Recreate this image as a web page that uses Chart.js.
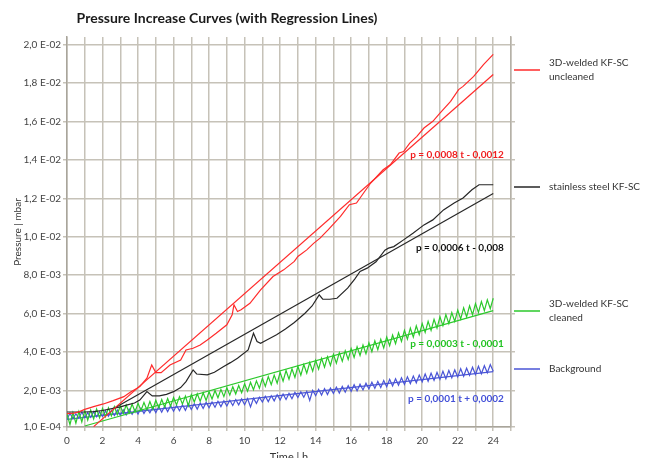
<!DOCTYPE html>
<html>
<head>
<meta charset="utf-8">
<title>Pressure Increase Curves</title>
<script src="https://cdn.jsdelivr.net/npm/chart.js@4.4.1/dist/chart.umd.min.js"></script>
<style>
  html, body { margin: 0; padding: 0; background: #fff; }
</style>
</head>
<body>
<canvas id="pressureChart" width="646" height="458"></canvas>
<script>
// all pressure values below are in units of 1e-4 mbar
const sampleStepH = 1 / 6; // logger interval: 10 min

// Background (zig-zag, logged every 10 min)
const backgroundVals = [
  5.0, 8.2, 5.4, 7.9, 5.6, 8.8,   5.9, 8.5, 6.0, 9.0, 6.3, 8.9,
  6.5, 9.4, 6.6, 9.6, 7.0, 9.8,   7.1, 10.0, 7.3, 10.4, 7.6, 10.2,
  7.8, 10.9, 8.0, 10.8, 8.4, 11.4, 8.5, 11.6, 8.7, 11.9, 9.0, 12.1,
  9.2, 12.2, 9.5, 12.6, 9.7, 13.0, 10.1, 13.1, 10.3, 13.5, 10.7, 13.8,
  11.0, 14.0, 11.3, 14.4, 11.6, 14.7, 11.9, 14.9, 12.2, 15.3, 12.5, 15.6,
  12.6, 15.8, 11.5, 16.0, 13.3, 16.5, 14.0, 17.0, 14.2, 17.3, 14.6, 17.8,
  15.1, 18.2, 15.3, 18.5, 15.7, 19.0, 16.3, 19.3, 16.5, 19.6, 14.8, 20.1,
  17.3, 20.6, 17.6, 21.0, 17.9, 21.3, 18.5, 21.8, 18.7, 22.1, 19.1, 22.5,
  19.6, 23.0, 19.8, 23.3, 20.3, 23.8, 20.8, 24.3, 21.1, 24.7, 21.5, 25.2,
  22.0, 25.8, 22.3, 26.1, 22.7, 26.6, 23.2, 27.1, 23.6, 27.5, 24.0, 28.0,
  24.5, 28.6, 24.8, 29.0, 25.3, 29.4, 25.8, 30.0, 26.1, 30.4, 26.6, 30.7,
  27.1, 31.3, 27.4, 31.6, 27.9, 32.1, 28.3, 32.6, 28.7, 32.9, 29.2, 33.5,
  30.0
];

// 3D-welded KF-SC cleaned (zig-zag, logged every 10 min)
const cleanedVals = [
  7.8, 2.2, 8.5, 3.0, 9.0, 3.6,   9.5, 4.6, 9.8, 5.2, 10.4, 5.8,
  10.7, 6.4, 11.0, 6.8, 11.6, 7.4, 12.0, 8.0, 12.4, 8.4, 12.9, 8.8,
  13.4, 9.5, 13.8, 9.9, 14.3, 10.3, 14.9, 11.0, 15.3, 11.4, 15.8, 11.8,
  16.4, 12.5, 16.8, 12.9, 17.1, 12.0, 17.8, 14.0, 18.3, 14.4, 18.8, 14.8,
  19.4, 15.6, 20.0, 16.2, 20.6, 16.8, 21.4, 17.6, 22.0, 18.2, 22.6, 18.8,
  23.5, 19.6, 24.3, 20.4, 25.0, 21.2, 26.3, 22.1, 27.2, 23.0, 28.0, 23.8,
  29.5, 24.9, 30.4, 25.9, 31.3, 26.8, 32.6, 28.0, 33.5, 29.0, 34.5, 30.0,
  35.7, 31.1, 36.7, 32.1, 37.6, 33.0, 38.8, 34.2, 39.7, 35.2, 40.7, 36.2,
  41.8, 37.2, 42.8, 38.2, 43.7, 39.2, 44.8, 40.2, 45.8, 41.2, 46.7, 42.2,
  47.8, 43.3, 48.9, 44.4, 50.0, 45.5, 51.3, 46.7, 52.5, 47.8, 53.6, 49.0,
  54.8, 50.2, 56.0, 51.3, 57.1, 52.5, 58.3, 53.7, 59.5, 54.8, 60.6, 56.0,
  61.8, 57.2, 63.0, 58.3, 64.1, 59.5, 65.2, 60.6, 66.3, 61.6, 67.2, 62.6,
  68.0
];

// 3D-welded KF-SC uncleaned
const uncleanedT = [0, 0.4, 0.7, 1.0, 1.5, 2.05, 2.6, 3.2, 3.6, 4.1, 4.5, 4.77, 5.0, 5.3, 5.8,
  6.4, 6.7, 7.1, 7.5, 7.9, 8.4, 9.0, 9.3, 9.4, 9.6, 9.8, 10.3, 10.9, 11.6, 12.2, 12.8, 13.0,
  13.5, 13.9, 14.25, 14.7, 15.4, 15.9, 16.3, 16.7, 17.1, 17.45, 17.8, 18.2, 18.7, 18.95, 19.3,
  19.7, 20.1, 20.6, 21.0, 21.6, 22.05, 22.3, 22.9, 23.45, 24.0];
const uncleanedVals = [8.0, 8.2, 9.0, 10.2, 11.6, 13.0, 14.7, 16.8, 19.4, 22.0, 26.4, 33.3, 29.3, 29.3, 33.3,
  35.9, 41.1, 42.0, 43.7, 46.3, 49.8, 54.2, 59.4, 64.6, 61.1, 62.0, 65.4, 72.4, 79.3, 82.8, 87.2, 89.8,
  93.2, 96.7, 99.3, 103.6, 110.6, 116.7, 117.6, 122.8, 128.0, 131.4, 134.9, 137.5, 143.6, 144.4, 148.8,
  152.3, 156.6, 160.1, 164.4, 170.5, 176.6, 178.3, 183.5, 189.6, 195.0];

// stainless steel KF-SC
const steelT = [0, 0.5, 1.0, 1.5, 2.0, 2.6, 3.0, 3.4, 3.8, 4.1, 4.5, 4.8, 5.2, 5.6, 6.0, 6.4, 6.7,
  7.1, 7.3, 7.9, 8.3, 8.8, 9.2, 9.6, 10.2, 10.5, 10.7, 10.9, 11.3, 11.8, 12.3, 12.8, 13.4, 13.8,
  14.2, 14.4, 14.8, 15.2, 15.8, 16.2, 16.5, 16.9, 17.4, 17.9, 18.1, 18.4, 18.95, 19.5, 20.1,
  20.6, 21.2, 21.8, 22.3, 22.8, 23.2, 23.45, 24.0];
const steelVals = [8.8, 8.8, 8.8, 9.0, 9.6, 10.7, 11.5, 12.5, 13.5, 15.0, 19.4, 17.2, 17.2, 18.0, 19.4, 21.5, 24.6,
  30.7, 28.6, 28.1, 29.5, 32.4, 34.5, 36.8, 41.1, 49.8, 45.5, 44.6, 46.5, 49.0, 52.0, 55.4, 60.2, 64.0,
  69.8, 67.5, 67.5, 68.0, 73.3, 78.0, 82.0, 83.7, 87.0, 93.0, 94.1, 94.9, 98.4, 102.0, 106.2,
  108.8, 114.0, 117.6, 120.2, 124.5, 127.1, 127.1, 127.1];

// regression lines: [start, end]
const uncleanedFitT = [1.5, 24];  const uncleanedFitP = [1.2, 184.5];
const steelFitT = [2.6, 24];      const steelFitP = [10.5, 122.5];
const cleanedFitT = [1.0, 24];    const cleanedFitP = [1.5, 61.6];
const backgroundFitT = [0, 24];   const backgroundFitP = [5.0, 29.8];

const fitLabels = ["p = 0,0008 t - 0,0012", "p = 0,0006 t - 0,008", "p = 0,0003 t - 0,0001", "p = 0,0001 t + 0,0002"];
const fitLabelP = [142.7, 94.3, 44.2, 15.6];
const seriesNames = [["3D-welded KF-SC", "uncleaned"], ["stainless steel KF-SC"], ["3D-welded KF-SC", "cleaned"], ["Background"]];
const seriesColors = ["#ff2b2b", "#262626", "#2bc92b", "#4a55d6"];
const eqColors = ["#f01e1e", "#111111", "#22c322", "#4350d8"];

const yTickValues = [0.0001, 0.002, 0.004, 0.006, 0.008, 0.010, 0.012, 0.014, 0.016, 0.018, 0.020];
const xTickLabelStep = 2;

const E4 = 1e-4;
const toPts = (ts, vs) => vs.map((v, i) => ({ x: ts[i], y: v * E4 }));
const sampled = (vs) => vs.map((v, i) => ({ x: i * sampleStepH, y: v * E4 }));

function sciLabel(v) {
  const exp = Math.floor(Math.log10(v) + 1e-9);
  const mant = v / Math.pow(10, exp);
  return mant.toFixed(1).replace(".", ",") + " E-" + String(-exp).padStart(2, "0");
}

const overlay = {
  id: "overlay",
  afterDraw(chart) {
    const { ctx, scales } = chart;
    ctx.save();
    // title
    ctx.fillStyle = "#1a1a1a";
    ctx.font = "bold 14px Lato";
    ctx.textAlign = "center";
    ctx.textBaseline = "middle";
    ctx.fillText("Pressure Increase Curves (with Regression Lines)", 227, 18);

    // regression equations, right-aligned just left of t = 24.6 h
    ctx.font = "bold 10px Lato";
    ctx.textAlign = "right";
    fitLabels.forEach((txt, i) => {
      ctx.fillStyle = eqColors[i];
      ctx.fillText(txt, scales.x.getPixelForValue(24.6), scales.y.getPixelForValue(fitLabelP[i] * E4));
    });

    // legend at the right
    const legendY = [70, 187, 311, 369];
    ctx.font = "10px Lato";
    ctx.textAlign = "left";
    seriesNames.forEach((lines, i) => {
      const cy = legendY[i];
      ctx.strokeStyle = seriesColors[i];
      ctx.lineWidth = 1.5;
      ctx.beginPath();
      ctx.moveTo(514, cy);
      ctx.lineTo(540, cy);
      ctx.stroke();
      ctx.fillStyle = "#333";
      const top = cy - (lines.length - 1) * 7;
      lines.forEach((l, k) => ctx.fillText(l, 549, top + k * 14));
    });
    ctx.restore();
  }
};

const lineStyle = (color) => ({ borderColor: color, backgroundColor: color, borderWidth: 1.2, pointRadius: 0, tension: 0, fill: false });

new Chart(document.getElementById("pressureChart").getContext("2d"), {
  type: "line",
  data: {
    datasets: [
      { data: toPts(uncleanedT, uncleanedVals), ...lineStyle(seriesColors[0]) },
      { data: toPts(uncleanedFitT, uncleanedFitP), ...lineStyle(seriesColors[0]) },
      { data: toPts(steelT, steelVals), ...lineStyle(seriesColors[1]) },
      { data: toPts(steelFitT, steelFitP), ...lineStyle(seriesColors[1]) },
      { data: sampled(cleanedVals), ...lineStyle(seriesColors[2]) },
      { data: toPts(cleanedFitT, cleanedFitP), ...lineStyle(seriesColors[2]) },
      { data: sampled(backgroundVals), ...lineStyle(seriesColors[3]) },
      { data: toPts(backgroundFitT, backgroundFitP), ...lineStyle(seriesColors[3]) }
    ]
  },
  options: {
    responsive: false,
    animation: false,
    layout: { padding: { top: 37, right: 131, bottom: 0, left: 0 } },
    plugins: { legend: { display: false }, title: { display: false }, tooltip: { enabled: false } },
    scales: {
      x: {
        type: "linear",
        min: 0,
        max: 25,
        afterFit: (axis) => { axis.height = 31; },
        ticks: {
          stepSize: 1,
          autoSkip: false,
          maxRotation: 0,
          padding: 4,
          color: "#444",
          font: { family: "Lato", size: 10 },
          callback: (v) => (v % xTickLabelStep === 0 ? String(v) : "")
        },
        grid: { color: "#c6c2b8", lineWidth: 1.5, tickLength: 4 },
        border: { color: "#a9a59b", width: 1.5 },
        title: { display: true, text: "Time | h", color: "#333", font: { family: "Lato", size: 11 }, padding: { top: 0, bottom: -6 } }
      },
      y: {
        type: "linear",
        min: 0.0001,
        max: 0.0204,
        afterFit: (axis) => { axis.width = 67; },
        afterBuildTicks: (axis) => { axis.ticks = yTickValues.map((value) => ({ value })); },
        ticks: { padding: 2, color: "#444", font: { family: "Lato", size: 10 }, callback: (v) => sciLabel(v) },
        grid: { color: "#c6c2b8", lineWidth: 1.5, tickLength: 4 },
        border: { color: "#a9a59b", width: 1.5 },
        title: { display: true, text: "Pressure | mbar", color: "#333", font: { family: "Lato", size: 10 }, padding: { top: 12, bottom: 0 } }
      },
      yRight: {
        type: "linear",
        position: "right",
        min: 0.0001,
        max: 0.0204,
        afterFit: (axis) => { axis.width = 4; },
        afterBuildTicks: (axis) => { axis.ticks = yTickValues.map((value) => ({ value })); },
        ticks: { display: false },
        grid: { drawOnChartArea: false, color: "#c6c2b8", lineWidth: 1.5, tickLength: 4 },
        border: { color: "#b5b1a7", width: 1.5 }
      }
    }
  },
  plugins: [overlay]
});
</script>
</body>
</html>
